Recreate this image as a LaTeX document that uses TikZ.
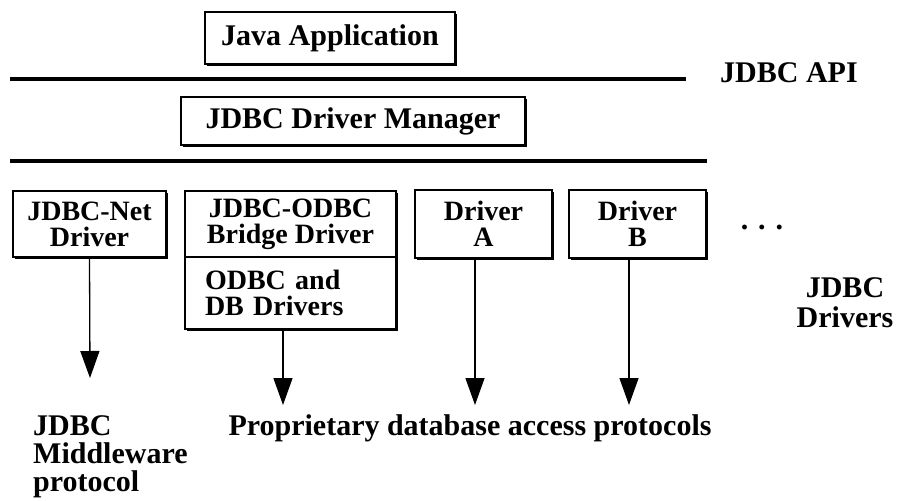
\documentclass[tikz,border=0pt]{standalone}
\usepackage{fontspec}
\setmainfont{Liberation Serif}
\usetikzlibrary{arrows.meta,shadows}
\begin{document}
\begin{tikzpicture}[x=1pt,y=-1pt,inner sep=1mm, >={Triangle[length=27pt,width=19pt]},
  box/.style={draw=black,line width=1.3pt,fill=white,inner sep=2pt,align=center,
    font=\fontsize{28}{26}\selectfont\bfseries,
    drop shadow={shadow xshift=2pt,shadow yshift=-2pt,fill=black,opacity=1}},
  lbl/.style={inner sep=0pt,font=\fontsize{30}{28}\selectfont\bfseries}]
\useasboundingbox (0,0) rectangle (898,501);
\node (app) at (330,38) [box,minimum width=250pt,minimum height=52pt,font=\fontsize{30}{26}\selectfont\bfseries] {Java Application};
\draw[line width=3.4pt] (10,79) -- (686,79);
\node (api) at (720,82) [lbl,anchor=base west] {JDBC API};
\node (mgr) at (353,121) [box,minimum width=344pt,minimum height=48pt,font=\fontsize{30}{26}\selectfont\bfseries] {JDBC Driver Manager};
\draw[line width=3.4pt] (10,161) -- (707,161);
\node (net) at (89.5,224) [box,minimum width=153pt,minimum height=66pt] {JDBC-Net\\Driver};
\node (bridge) at (290.5,224) [box,minimum width=211pt,minimum height=66pt] {JDBC-ODBC\\Bridge Driver};
\node (odbc) at (290.5,293) [box,minimum height=72pt,text width=171pt,inner xsep=20pt,align=left] {ODBC and\\DB Drivers};
\node (drva) at (483.5,224) [box,minimum width=137pt,minimum height=68pt] {Driver\\A};
\node (drvb) at (637.5,224) [box,minimum width=137pt,minimum height=68pt] {Driver\\B};
\node (dots) at (762,229) [lbl,anchor=base] {. . .};
\node (drivers) at (845,277) [lbl,anchor=north,align=center,font=\fontsize{30}{30}\selectfont\bfseries] {JDBC\\Drivers};
\node (mid) at (33,415) [lbl,anchor=north west,align=left] {JDBC\\Middleware\\protocol};
\node (proto) at (470,435) [lbl,anchor=base] {Proprietary database access protocols};
\coordinate (netend) at (90,378);
\coordinate (odbcend) at (283,405);
\coordinate (drvaend) at (475,405);
\coordinate (drvbend) at (629,405);
\draw[->,line width=1.3pt] (net.south) -- (netend);
\draw[->,line width=1.3pt] ([xshift=-7.5pt]odbc.south) -- (odbcend);
\draw[->,line width=1.3pt] ([xshift=-8.5pt]drva.south) -- (drvaend);
\draw[->,line width=1.3pt] ([xshift=-8.5pt]drvb.south) -- (drvbend);
\end{tikzpicture}
\end{document}
